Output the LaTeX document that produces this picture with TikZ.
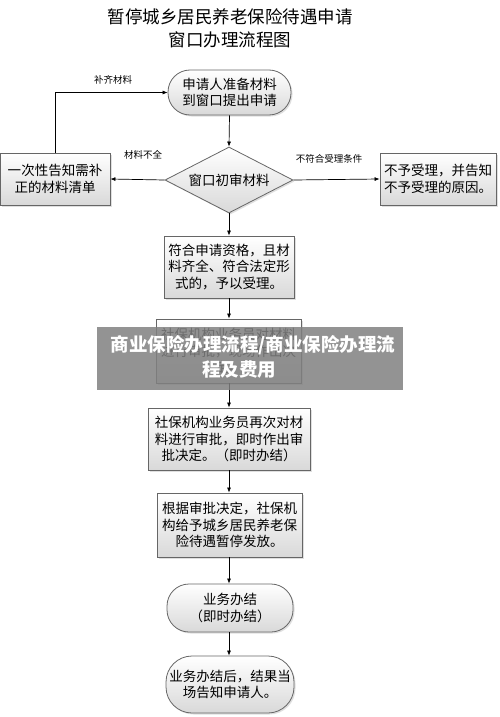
\documentclass[tikz,border=0pt]{standalone}
\usepackage{fontspec}
\newfontfamily\cjk{Noto Sans CJK SC}
\usetikzlibrary{shapes.geometric,arrows.meta,shadows}
\begin{document}
\begin{tikzpicture}[x=1pt,y=-1pt,
  every node/.style={font=\cjk},
  boxtxt/.style={font=\cjk\fontsize{13.5}{16.5}\selectfont, align=center, inner sep=0pt},
  flowbox/.style={boxtxt, draw=black!60, line width=0.8pt, top color=white, bottom color=black!15, drop shadow={shadow xshift=1.5pt,shadow yshift=-1.5pt,fill=black!25}},
  roundbox/.style={flowbox, rounded corners=22pt},
  lbl/.style={font=\cjk\fontsize{9.5}{11}\selectfont, inner sep=0pt},
  arr/.style={draw=black, line width=0.7pt, -{Latex[length=5pt,width=4pt]}}
]
\useasboundingbox (0,0) rectangle (500,717);
% title
\node[font=\cjk\fontsize{17.5}{23}\selectfont, align=center] (title) at (230,28) {暂停城乡居民养老保险待遇申请\\窗口办理流程图};
% nodes
\node[roundbox, minimum width=123pt, minimum height=45pt] (start) at (229.5,92.5) {申请人准备材料\\到窗口提出申请};
\node[flowbox, diamond, aspect=1.94, minimum width=128pt, minimum height=66pt] (check) at (229,180) {窗口初审材料};
\node[flowbox, minimum width=110pt, minimum height=52pt] (left) at (55,179) {一次性告知需补\\正的材料清单};
\node[flowbox, minimum width=116pt, minimum height=52pt] (right) at (438,179) {不予受理，并告知\\不予受理的原因。};
\node[flowbox, minimum width=130pt, minimum height=62pt] (accept) at (229,267) {符合申请资格，且材\\料齐全、符合法定形\\式的，予以受理。};
\node[flowbox, minimum width=145pt, minimum height=64pt] (review) at (228.5,351) {社保机构业务员对材料\\进行审批，现场作出决\\定。};
\node[flowbox, minimum width=162pt, minimum height=62pt] (approve) at (229,439) {社保机构业务员再次对材\\料进行审批，即时作出审\\批决定。（即时办结）};
\node[flowbox, minimum width=145pt, minimum height=64pt] (stop) at (229.5,525) {根据审批决定，社保机\\构给予城乡居民养老保\\险待遇暂停发放。};
\node[roundbox, minimum width=126pt, minimum height=48pt] (done) at (230,608) {业务办结\\（即时办结）};
\node[roundbox, rounded corners=26pt, minimum width=128pt, minimum height=57pt] (notify) at (230,684.5) {业务办结后，结果当\\场告知申请人。};
% connectors
\coordinate (startS) at (start.south);
\draw[arr] (start.south) -- (check.north);
\draw[arr] (check.west) -- (left.east);
\draw[arr] (check.east) -- (right.west);
\draw[arr] (check.south) -- (accept.north);
\draw[arr] (accept.south) -- (review.north -| accept.south);
\draw[arr] (review.south -| accept.south) -- (approve.north -| accept.south);
\draw[arr] (approve.south) -- (stop.north -| approve.south);
\draw[arr] (stop.south -| approve.south) -- (done.north -| approve.south);
\draw[arr] (done.south -| approve.south) -- (notify.north -| approve.south);
\draw[arr] (left.north) |- (start.west);
% labels
\node[lbl] (l1) at (113,80) {补齐材料};
\node[lbl] (l2) at (143,155) {材料不全};
\node[lbl] (l3) at (329,159) {不符合受理条件};
% watermark band
\fill[black!50, opacity=0.85] (97,327) rectangle (403,390);
\node[font=\cjk\bfseries\fontsize{18.5}{22}\selectfont, text=white, inner sep=0pt] (wm1) at (253,345) {商业保险办理流程/商业保险办理流};
\node[font=\cjk\bfseries\fontsize{18.5}{22}\selectfont, text=white, inner sep=0pt] (wm2) at (239,370) {程及费用};
\end{tikzpicture}
\end{document}
